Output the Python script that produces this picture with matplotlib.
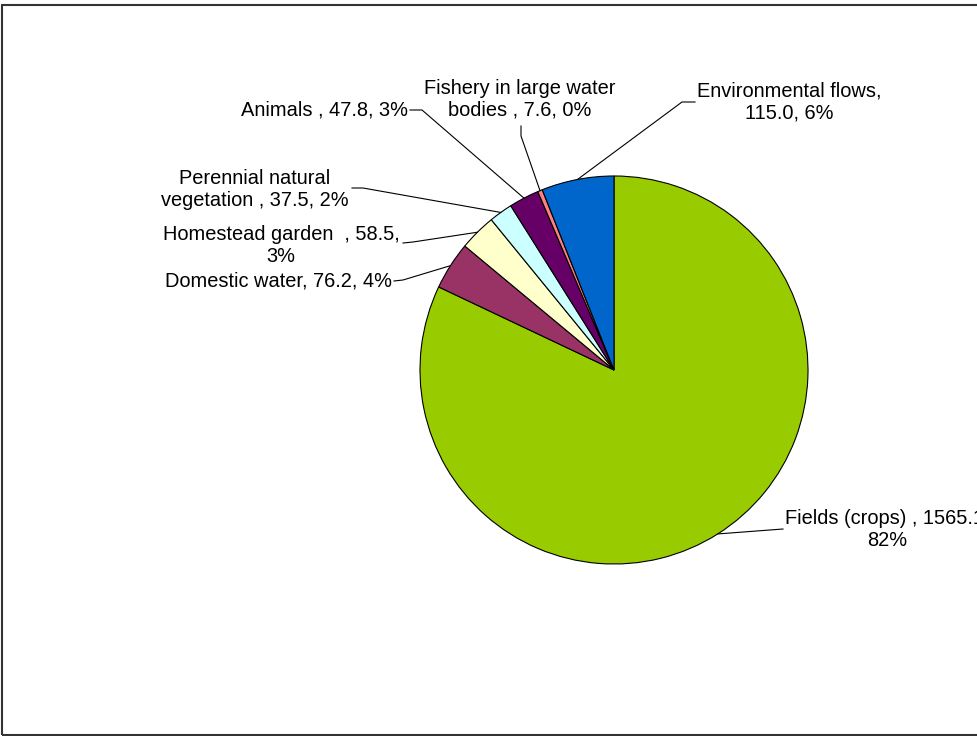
import numpy as np
import matplotlib
matplotlib.use("Agg")
import matplotlib.pyplot as plt
from matplotlib.patches import Rectangle

plt.rcParams['font.family'] = ['Liberation Sans', 'DejaVu Sans']

# data (clockwise from 12 o'clock)
names = ["Fields (crops)", "Domestic water", "Homestead garden", "Perennial natural vegetation",
         "Animals", "Fishery in large water bodies", "Environmental flows"]
values = [1565.1, 76.2, 58.5, 37.5, 47.8, 7.6, 115.0]
labels = ["Fields (crops) , 1565.1,\n82%",
          "Domestic water, 76.2, 4%",
          "Homestead garden  , 58.5,\n3%",
          "Perennial natural\nvegetation , 37.5, 2%",
          "Animals , 47.8, 3%",
          "Fishery in large water\nbodies , 7.6, 0%",
          "Environmental flows,\n115.0, 6%"]
colors = ["#99CC00", "#993366", "#FFFFCC", "#CCFFFF", "#660066", "#FF8080", "#0066CC"]

W, H = 977, 736
def px(x, y):
    # image pixel coords -> axes data coords
    return x, H - y

# label layout: text position, alignment, leader start points
layout = [
    dict(xy=(887, 530), ha="center", path=[(783, 529)]),
    dict(xy=(392, 281), ha="right", path=[(394, 281), (403, 280)]),
    dict(xy=(281, 246), ha="center", path=[(403, 243), (413, 242)]),
    dict(xy=(255, 189), ha="center", path=[(352, 188), (363, 188)]),
    dict(xy=(408, 110), ha="right", path=[(410, 110), (422, 110)]),
    dict(xy=(520, 99), ha="center", path=[(521, 126), (521, 136)]),
    dict(xy=(789, 102), ha="center", path=[(695, 102), (682, 102)]),
]

fig = plt.figure(figsize=(W / 100, H / 100), dpi=100)
ax = fig.add_axes([0, 0, 1, 1])

cx, cy = px(614, 370)
r = 194
wedges, _ = ax.pie(values, colors=colors, startangle=90, counterclock=False,
                   center=(cx, cy), radius=r,
                   wedgeprops=dict(edgecolor="black", linewidth=0.8))

for w, lab, lay in zip(wedges, labels, layout):
    mid = np.deg2rad((w.theta1 + w.theta2) / 2)
    ex, ey = cx + r * np.cos(mid), cy + r * np.sin(mid)
    pts = [px(*p) for p in lay["path"]] + [(ex, ey)]
    ax.plot([p[0] for p in pts], [p[1] for p in pts], color="black", lw=0.8)
    tx, ty = px(*lay["xy"])
    ax.text(tx, ty, lab, ha=lay["ha"], va="center", multialignment="center",
            fontsize=14.4, color="black", linespacing=1.2)

ax.set_xlim(0, W)
ax.set_ylim(0, H)
ax.set_aspect("equal")
ax.axis("off")

fig.patches.append(Rectangle((2 / W, 1 / H), 2, (730) / H, transform=fig.transFigure,
                             fill=False, edgecolor="#333333", lw=1.5))

fig.savefig("out.png", dpi=100)
